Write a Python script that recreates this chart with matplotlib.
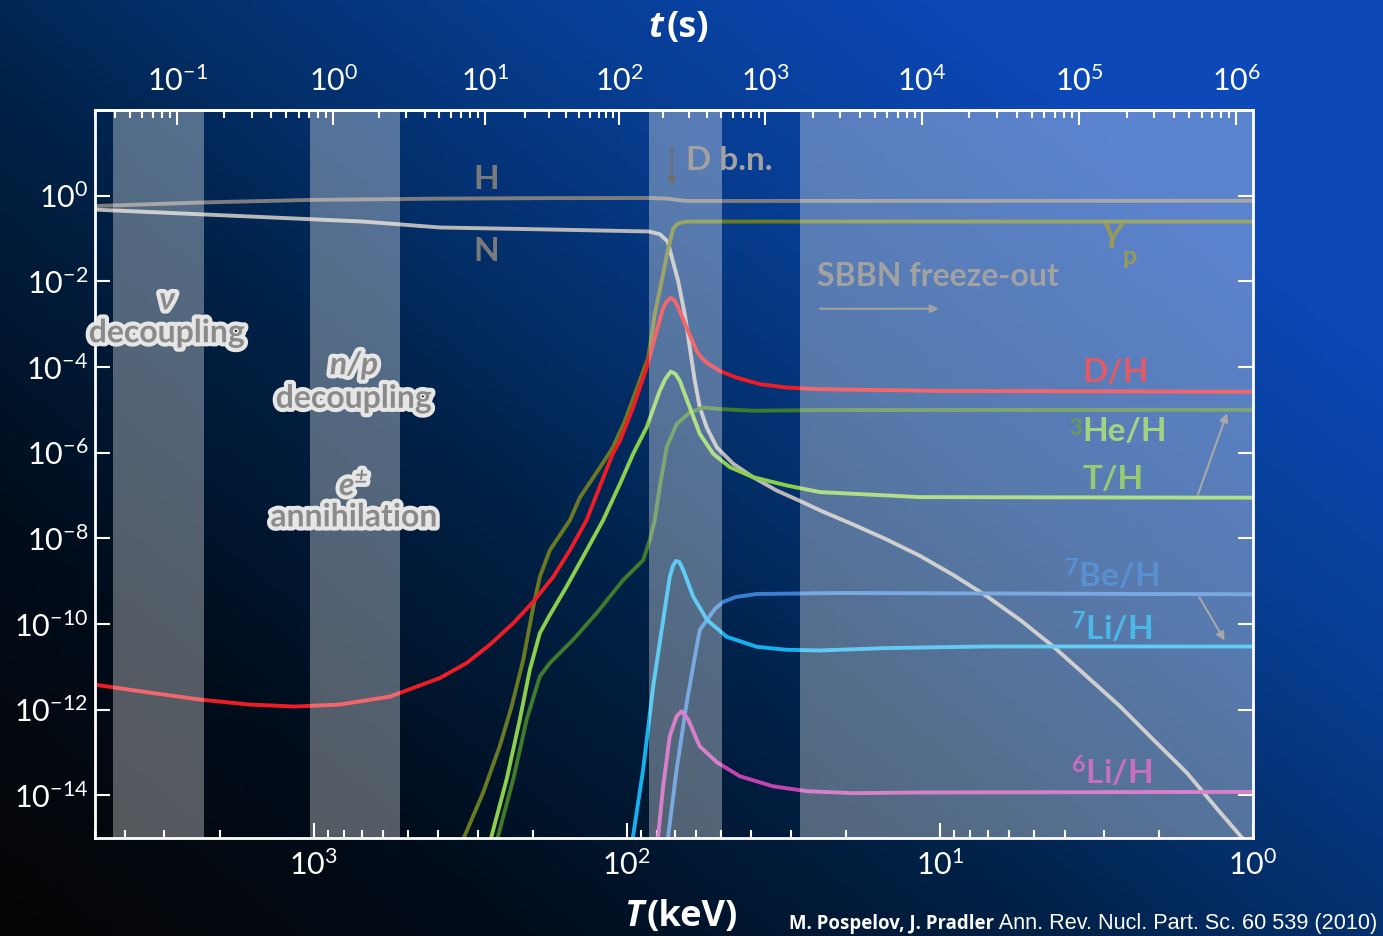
import numpy as np
import matplotlib
matplotlib.use("Agg")
import matplotlib.pyplot as plt
from matplotlib import patheffects as pe
from matplotlib.ticker import LogLocator, FixedLocator, NullLocator, LogFormatterSciNotation

plt.rcParams['font.family'] = ['Lato', 'DejaVu Sans']
plt.rcParams['mathtext.default'] = 'regular'

# ---- abundances vs temperature (log10 T[keV], log10 X/H) ----
logT_H = [3.70, 3.36, 3.01, 2.60, 2.25, 1.93, 1.87, 1.83, 1.80, 0.0]
logY_H = [-0.244, -0.16, -0.10, -0.07, -0.058, -0.055, -0.07, -0.11, -0.125, -0.12]

logT_N = [3.700, 2.843, 2.597, 2.246, 1.930, 1.895, 1.870, 1.853, 1.836, 1.815, 1.799,
          1.783, 1.767, 1.745, 1.713, 1.660, 1.597, 1.522, 1.447, 1.383, 1.277, 1.170,
          1.064, 0.957, 0.851, 0.744, 0.638, 0.531, 0.425, 0.319, 0.212, 0.105, 0.036,
          0.0]
logY_N = [-0.326, -0.605, -0.744, -0.791, -0.837, -0.900, -1.070, -1.535, -2.000, -2.774,
          -3.551, -4.326, -4.947, -5.412, -5.877, -6.263, -6.574, -6.884, -7.13, -7.35,
          -7.68, -8.03, -8.41, -8.86, -9.35, -9.907, -10.528, -11.226, -11.923,
          -12.698, -13.472, -14.402, -14.984, -15.3]

logT_Yp = [2.539, 2.518, 2.459, 2.406, 2.368, 2.331, 2.299, 2.278, 2.246, 2.182, 2.150,
           2.086, 2.045, 2.006, 1.932, 1.911, 1.889, 1.870, 1.852, 1.837, 1.808, 0.0]
logY_Yp = [-15.3, -14.947, -13.937, -12.853, -11.923, -10.837, -9.598, -8.900, -8.279,
           -7.581, -7.047, -6.349, -5.884, -5.256, -3.784, -2.774, -2.000, -1.302, -0.767,
           -0.651, -0.605, -0.605]

logT_D = [3.700, 3.524, 3.364, 3.204, 3.061, 2.917, 2.757, 2.597, 2.512, 2.438, 2.363,
          2.299, 2.235, 2.182, 2.129, 2.045, 2.022, 1.980, 1.937, 1.905, 1.884, 1.872,
          1.860, 1.848, 1.836, 1.809, 1.777, 1.761, 1.745, 1.703, 1.650, 1.575, 1.490,
          1.383, 1.000, 0.0]
logY_D = [-11.419, -11.605, -11.767, -11.884, -11.930, -11.884, -11.698, -11.263, -10.914,
          -10.488, -9.984, -9.481, -8.900, -8.279, -7.581, -6.023, -5.721, -4.947, -4.016,
          -3.163, -2.621, -2.465, -2.388, -2.442, -2.621, -3.086, -3.628, -3.79, -3.900,
          -4.093, -4.249, -4.402, -4.481, -4.519, -4.56, -4.58]

logT_T = [2.441, 2.432, 2.384, 2.342, 2.310, 2.278, 2.246, 2.193, 2.140, 2.076, 2.022,
          1.980, 1.937, 1.895, 1.877, 1.860, 1.845, 1.831, 1.799, 1.767, 1.724, 1.671,
          1.597, 1.490, 1.383, 1.064, 0.0]
logY_T = [-15.3, -14.947, -13.628, -12.233, -11.070, -10.216, -9.791, -9.133, -8.435,
          -7.581, -6.728, -6.030, -5.412, -4.558, -4.279, -4.109, -4.163, -4.326, -4.947,
          -5.565, -6.030, -6.342, -6.574, -6.767, -6.923, -7.040, -7.053]

logT_He3 = [2.424, 2.411, 2.363, 2.320, 2.278, 2.246, 2.172, 2.097, 2.012, 1.948, 1.927,
            1.911, 1.895, 1.873, 1.841, 1.799, 1.756, 1.703, 1.597, 1.383, 0.0]
logY_He3 = [-15.3, -14.947, -13.628, -12.233, -11.226, -10.914, -10.372, -9.751, -8.977,
            -8.512, -8.047, -7.581, -6.807, -5.877, -5.333, -5.063, -4.947, -4.984, -5.023,
            -5.007, -5.0]

logT_Be7 = [1.874, 1.868, 1.841, 1.809, 1.777, 1.767, 1.744, 1.719, 1.693, 1.652, 1.585,
            1.319, 0.0]
logY_Be7 = [-15.3, -14.947, -13.395, -11.844, -10.528, -10.140, -9.907, -9.651, -9.488,
            -9.372, -9.302, -9.279, -9.309]

logT_Li7 = [1.987, 1.980, 1.948, 1.916, 1.884, 1.863, 1.853, 1.843, 1.832, 1.820, 1.788,
            1.744, 1.681, 1.585, 1.490, 1.383, 1.170, 0.851, 0.0]
logY_Li7 = [-15.3, -14.947, -13.395, -11.458, -9.907, -8.900, -8.651, -8.528, -8.558,
            -8.744, -9.365, -9.907, -10.302, -10.535, -10.605, -10.621, -10.565, -10.528,
            -10.528]

logT_Li6 = [1.905, 1.900, 1.884, 1.863, 1.841, 1.825, 1.804, 1.777, 1.767, 1.712, 1.639,
            1.534, 1.425, 1.277, 1.064, 0.0]
logY_Li6 = [-15.3, -14.947, -13.784, -12.621, -12.156, -12.040, -12.233, -12.698, -12.860,
            -13.233, -13.558, -13.791, -13.907, -13.953, -13.937, -13.923]

# shaded epochs (T range in keV)
bands_T = [(4385, 2244), (1030, 531), (85.1, 49.7), (28.0, 1.0)]

# time <-> temperature correspondence used for the top axis
t_cal = [1e-2, 1e-1, 1e0, 1e1, 1e2, 1e3, 1e4, 1e5, 1e6, 1e7]
T_cal = [8650, 2735, 867, 284, 105.7, 36.1, 11.4, 3.59, 1.13, 0.356]
t_ticks = [1e-1, 1e0, 1e1, 1e2, 1e3, 1e4, 1e5, 1e6]

curves = [
    (logT_H, logY_H, '#7d7d7d'),
    (logT_N, logY_N, '#b8b8b8'),
    (logT_Yp, logY_Yp, '#6b7a22'),
    (logT_He3, logY_He3, '#3f7b2c'),
    (logT_T, logY_T, '#8ccf4c'),
    (logT_D, logY_D, '#ee1c25'),
    (logT_Be7, logY_Be7, '#3a80d2'),
    (logT_Li7, logY_Li7, '#14b2ee'),
    (logT_Li6, logY_Li6, '#c244b0'),
]


def T_to_t(T):
    lt = np.log10(np.clip(np.asarray(T, dtype=float), 1e-30, None))
    return 10 ** np.interp(lt, np.log10(T_cal)[::-1], np.log10(t_cal)[::-1])


def t_to_T(t):
    lt = np.log10(np.clip(np.asarray(t, dtype=float), 1e-30, None))
    return 10 ** np.interp(lt, np.log10(t_cal), np.log10(T_cal))


fig = plt.figure(figsize=(13.83, 9.36), dpi=100)

# background gradient
gh, gw = 240, 360
gy, gx = np.mgrid[0:1:gh * 1j, 0:1:gw * 1j]
s = np.clip(0.65 * gx + 0.55 * (1 - gy), 0, 1)
stops = [0, 0.25, 0.5, 0.75, 1.0]
cols = np.array([[6, 4, 3], [1, 13, 28], [0, 34, 72], [6, 58, 136], [12, 72, 184]]) / 255
img = np.stack([np.interp(s, stops, cols[:, k]) for k in range(3)], axis=-1)
bg = fig.add_axes([0, 0, 1, 1], zorder=0)
bg.imshow(img, aspect='auto', extent=(0, 1, 0, 1), origin='upper')
bg.axis('off')

ax = fig.add_axes([0.0687, 0.1047, 0.8373, 0.7778], zorder=1)
ax.set_facecolor('none')
ax.set_xscale('log')
ax.set_yscale('log')

for lt, ly, c in curves:
    ax.plot(10 ** np.array(lt), 10 ** np.array(ly), color=c, lw=2.8,
            solid_capstyle='round', solid_joinstyle='round', zorder=2)

for a, b in bands_T:
    ax.axvspan(a, b, color='white', alpha=0.33, lw=0, zorder=3)

ax.set_xlim(5000, 1)
ax.set_ylim(1e-15, 1e2)

for sp in ax.spines.values():
    sp.set_color('white')
    sp.set_linewidth(2)

ax.xaxis.set_major_locator(FixedLocator([1e3, 1e2, 1e1, 1e0]))
ax.xaxis.set_major_formatter(LogFormatterSciNotation())
ax.xaxis.set_minor_locator(LogLocator(base=10, subs=np.arange(2, 10), numticks=20))
ax.yaxis.set_major_locator(FixedLocator(10.0 ** np.arange(-14, 1, 2)))
ax.yaxis.set_minor_locator(NullLocator())
ax.yaxis.set_major_formatter(LogFormatterSciNotation())
ax.tick_params(which='both', direction='in', colors='white', labelsize=22, width=1.5)
ax.tick_params(axis='y', which='major', length=11, right=True, pad=5)
ax.tick_params(axis='x', which='major', length=11, top=False, pad=8)
ax.tick_params(axis='x', which='minor', length=6, top=False)

secax = ax.secondary_xaxis('top', functions=(T_to_t, t_to_T))
secax.xaxis.set_major_locator(FixedLocator(t_ticks))
secax.xaxis.set_major_formatter(LogFormatterSciNotation())
secax.xaxis.set_minor_locator(LogLocator(base=10, subs=np.arange(2, 10), numticks=20))
secax.tick_params(which='both', direction='in', colors='white', labelsize=22, width=1.5)
secax.tick_params(which='major', length=11, pad=10)
secax.tick_params(which='minor', length=6)
secax.spines['top'].set_color('white')
secax.spines['top'].set_linewidth(2)

# curve labels
lab = dict(transform=ax.transAxes, weight='bold', ha='center', va='center', zorder=6)
ax.text(0.338, 0.905, 'H', color='#7a7a7a', fontsize=24, **lab)
ax.text(0.338, 0.806, 'N', color='#7a7a7a', fontsize=24, **lab)
ax.text(0.510, 0.931, 'D b.n.', color='#a2a2a2', fontsize=24, transform=ax.transAxes,
        weight='bold', ha='left', va='center', zorder=6)
ax.annotate('', xy=(0.498, 0.892), xytext=(0.498, 0.953), xycoords='axes fraction',
            arrowprops=dict(arrowstyle='-|>', color='#6e6e6e', lw=1.5, mutation_scale=12),
            zorder=6)
y_txt = ax.text(0.878, 0.824, 'Y', color='#9a9a58', fontsize=25, style='italic', **lab)
ax.annotate('p', xy=(1.0, 0.0), xycoords=y_txt, xytext=(0, -2), textcoords='offset points',
            ha='left', va='center', color='#9a9a58', fontsize=18, weight='bold', zorder=6)
ax.text(0.6235, 0.771, 'SBBN freeze-out', color='#a2a2a2', fontsize=23,
        transform=ax.transAxes, weight='bold', ha='left', va='center', zorder=6)
ax.annotate('', xy=(0.731, 0.727), xytext=(0.6235, 0.727), xycoords='axes fraction',
            arrowprops=dict(arrowstyle='-|>', color='#a2a2a2', lw=1.5, mutation_scale=12),
            zorder=6)
ax.text(0.881, 0.640, 'D/H', color='#e25a68', fontsize=24, **lab)
he_txt = ax.text(0.889, 0.559, 'He/H', color='#a2d282', fontsize=24, **lab)
ax.annotate('3', xy=(0, 0.95), xycoords=he_txt, ha='right', va='top',
            color='#6a9a5a', fontsize=16, weight='bold', zorder=6)
ax.text(0.879, 0.493, 'T/H', color='#98ca72', fontsize=24, **lab)
ax.text(0.878, 0.361, r'$^{7}$Be/H', color='#5890d2', fontsize=24, **lab)
ax.text(0.878, 0.288, r'$^{7}$Li/H', color='#4ab8e8', fontsize=24, **lab)
ax.text(0.878, 0.0907, r'$^{6}$Li/H', color='#c870c0', fontsize=24, **lab)
arr = dict(arrowstyle='-|>', color='#a8a8a8', lw=1.5, mutation_scale=12)
ax.annotate('', xy=(0.9784, 0.587), xytext=(0.9516, 0.468), xycoords='axes fraction',
            arrowprops=arr, zorder=6)
ax.annotate('', xy=(0.9767, 0.268), xytext=(0.9525, 0.334), xycoords='axes fraction',
            arrowprops=arr, zorder=6)

# epoch labels with light halo
halo = [pe.withStroke(linewidth=6, foreground='#e6e6e6')]
ep = dict(transform=ax.transAxes, weight='bold', ha='center', va='center',
          color='#8a8a8a', fontsize=23, path_effects=halo, zorder=7)
ax.text(0.0622, 0.739, 'ν', style='italic', **ep)
ax.text(0.0622, 0.694, 'decoupling', **ep)
ax.text(0.2237, 0.650, 'n/p', style='italic', **ep)
ax.text(0.2237, 0.604, 'decoupling', **ep)
ax.text(0.2237, 0.485, r'e$^{\pm}$', style='italic', **ep)
ax.text(0.2237, 0.441, 'annihilation', **ep)

# axis titles
tf = dict(color='white', fontsize=26, weight='bold', family=['Open Sans', 'DejaVu Sans'],
          va='center')
fig.text(663 / 1383, 0.970, 't', ha='right', style='italic', **tf)
fig.text(667 / 1383, 0.970, '(s)', ha='left', **tf)
fig.text(643 / 1383, 0.020, 'T', ha='right', style='italic', **tf)
fig.text(647 / 1383, 0.020, '(keV)', ha='left', **tf)

cred = fig.text(789 / 1383, 0.008, 'M. Pospelov, J. Pradler', color='white', fontsize=13.4,
                weight='bold', family=['Open Sans', 'DejaVu Sans'], ha='left', va='baseline')
plt.annotate(' Ann. Rev. Nucl. Part. Sc. 60 539 (2010)', xy=(1, 0), xycoords=cred,
             ha='left', va='bottom', color='white', fontsize=15.6,
             family=['Liberation Sans Narrow', 'Liberation Sans', 'DejaVu Sans'])

fig.savefig('out.png', dpi=100, facecolor='black')
